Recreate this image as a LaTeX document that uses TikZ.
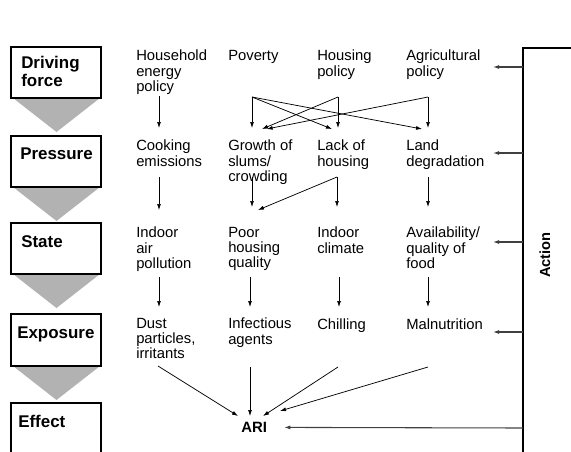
\documentclass[tikz,border=0pt]{standalone}
\usepackage{fontspec}
\setmainfont{Liberation Sans}
\usetikzlibrary{arrows.meta,positioning}

\tikzset{
  cause/.style={font=\fontsize{11.1}{11.3}\selectfont, align=left, anchor=north west, inner sep=0pt},
  stagename/.style={font=\bfseries\fontsize{12.7}{12}\selectfont, align=left, anchor=north west, inner sep=0pt},
  stagebox/.style={line width=1.3pt},
  funnel/.style={fill=black!30, draw=none},
  link/.style={-{Latex[length=4.5pt,width=3pt]}, line width=0.55pt},
  feedback/.style={-{Latex[length=4.5pt,width=3pt]}, line width=0.8pt, black!75},
}

\begin{document}
\begin{tikzpicture}[x=0.75pt,y=-0.75pt]
  \useasboundingbox (0,0) rectangle (571,451);
  % DPSEEA stages on the left
  \foreach \t/\b in {47/98,136/187,223/274,314/366}{
    \fill[funnel] (13,\b) -- (100,\b) -- (56.5,\b+34) -- cycle;
    \draw[stagebox] (11,\t) rectangle (101,\b);
  }
  \draw[stagebox] (11,455) |- (101,403) -- (101,455);
  \node[stagename] (df) at (21,56) {Driving\\[1.5pt]force};
  \node[stagename] (pr) at (20,148) {Pressure};
  \node[stagename] (st) at (21,235) {State};
  \node[stagename] (ex) at (17,327) {Exposure};
  \node[stagename] (ef) at (18,415) {Effect};

  % Causes, one row per stage
  \node[cause] (hep)   at (136,50) {Household\\energy\\policy};
  \node[cause] (pov)   at (228,50) {Poverty};
  \node[cause] (hpol)  at (317,50) {Housing\\policy};
  \node[cause] (agpol) at (406,50) {Agricultural\\policy};

  \node[cause] (cook)  at (136,140) {Cooking\\emissions};
  \node[cause] (slum)  at (228,140) {Growth of\\slums/\\crowding};
  \node[cause] (lack)  at (317,140) {Lack of\\housing};
  \node[cause] (land)  at (406,140) {Land\\degradation};

  \node[cause] (iap)   at (136,227) {Indoor\\air\\pollution};
  \node[cause] (phq)   at (228,227) {Poor\\housing\\quality};
  \node[cause] (iclim) at (317,227) {Indoor\\climate};
  \node[cause] (food)  at (406,227) {Availability/\\quality of\\food};

  \node[cause] (dust)  at (136,318) {Dust\\particles,\\irritants};
  \node[cause] (infec) at (228,318) {Infectious\\agents};
  \node[cause] (chill) at (317,318) {Chilling};
  \node[cause] (maln)  at (406,318) {Malnutrition};

  \node[cause, font=\bfseries\fontsize{11.2}{12}\selectfont] (ari) at (241,422) {ARI};

  % ports where the arrows leave and enter
  \foreach \p/\x/\y in {hep-o/159/96, pov-o/252/97, hpol-o/338/97, agpol-o/428/97,
      cook-i/159/128, slum-i/252/128, lack-i/338/128, land-i/428/128,
      cook-o/159/177, slum-o/252/177, lack-o/337/177, land-o/428/177,
      iap-i/159/210, phq-i/252/207, iclim-i/337/207, food-i/428/207,
      iap-o/159/277, phq-o/250/277, iclim-o/339/277, food-o/428/277,
      dust-i/159/307, infec-i/250/307, chill-i/339/307, maln-i/428/307,
      dust-o/158/366, infec-o/250/367, chill-o/338/367, maln-o/428/367}
    \coordinate (\p) at (\x,\y);

  % driving force -> pressure
  \draw[link] (hep-o) -- (cook-i);
  \draw[link] (pov-o) -- (slum-i);
  \draw[link] (pov-o) -- ([xshift=-4.5pt,yshift=-0.75pt]lack-i);
  \draw[link] (pov-o) -- ([xshift=-4.5pt,yshift=-0.75pt]land-i);
  \draw[link] (hpol-o) -- (lack-i);
  \draw[link] (hpol-o) -- ([xshift=7.5pt,yshift=-0.75pt]slum-i);
  \draw[link] (agpol-o) -- (land-i);
  \draw[link] (agpol-o) -- ([xshift=11pt,yshift=-0.75pt]slum-i);
  % pressure -> state
  \draw[link] (cook-o) -- (iap-i);
  \draw[link] (slum-o) -- (phq-i);
  \draw[link] (lack-o) -- (iclim-i);
  \draw[link] (lack-o) -- ([xshift=4.5pt,yshift=-2.25pt]phq-i);
  \draw[link] (land-o) -- (food-i);
  % state -> exposure
  \draw[link] (iap-o) -- (dust-i);
  \draw[link] (phq-o) -- (infec-i);
  \draw[link] (iclim-o) -- (chill-i);
  \draw[link] (food-o) -- (maln-i);
  % exposure -> effect
  \draw[link] (dust-o) -- ([xshift=-2.25pt,yshift=4.5pt]ari.north west);
  \draw[link] (infec-o) -- ([xshift=6.75pt,yshift=4.5pt]ari.north west);
  \draw[link] (chill-o) -- ([xshift=16.5pt,yshift=4.5pt]ari.north west);
  \draw[link] (maln-o) -- ([xshift=29.25pt,yshift=8.25pt]ari.north west);

  % Action
  \draw[line width=1.6pt] (575,48) -- (523,48) -- (523,455);
  \node[font=\bfseries\fontsize{11}{12}\selectfont, rotate=90, inner sep=0pt] (act) at (545,255) {Action};
  \foreach \y in {67,153,242,332}
    \draw[feedback] (523,\y) -- (493,\y);
  \draw[feedback] (523,428) -- ([xshift=12.75pt]ari.east);
\end{tikzpicture}
\end{document}
